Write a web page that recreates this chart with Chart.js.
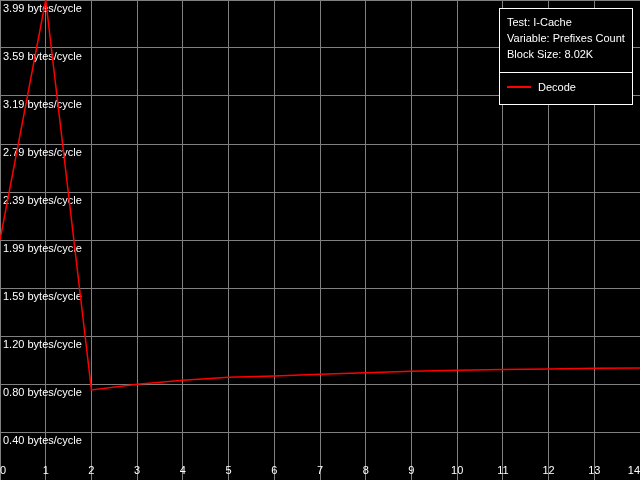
<!DOCTYPE html>
<html>
<head>
<meta charset="utf-8">
<script src="https://cdn.jsdelivr.net/npm/chart.js@4/dist/chart.umd.min.js"></script>
<style>
  html, body { margin: 0; padding: 0; background: #000; }
  #chart { display: block; }
</style>
</head>
<body>
<canvas id="chart" width="640" height="480"></canvas>
<script>
// Data
const prefixCounts = [0, 1, 2, 3, 4, 5, 6, 7, 8, 9, 10, 11, 12, 13, 14];
const decodeRate = [1.995, 3.99, 0.748, 0.796, 0.829, 0.854, 0.864, 0.879, 0.892, 0.904, 0.912, 0.918, 0.923, 0.929, 0.931];
const yTickValues = [0, 0.399, 0.798, 1.197, 1.596, 1.995, 2.394, 2.793, 3.192, 3.591, 3.99];
const yTickLabels = ["", "0.40 bytes/cycle", "0.80 bytes/cycle", "1.20 bytes/cycle", "1.59 bytes/cycle",
  "1.99 bytes/cycle", "2.39 bytes/cycle", "2.79 bytes/cycle", "3.19 bytes/cycle", "3.59 bytes/cycle", "3.99 bytes/cycle"];
const infoLines = ["Test: I-Cache", "Variable: Prefixes Count", "Block Size: 8.02K"];
const seriesName = "Decode";

const FONT = "11px 'Liberation Sans', Arial, sans-serif";

// Info + legend box in the top right corner
const infoBox = {
  id: "infoBox",
  afterDraw(chart){
    const c = chart.ctx;
    c.save();
    c.fillStyle = "#000";
    c.fillRect(499, 8, 133, 96);
    c.strokeStyle = "#fff";
    c.lineWidth = 1;
    c.strokeRect(499.5, 8.5, 133, 96);
    c.beginPath();
    c.moveTo(499, 72.5);
    c.lineTo(632, 72.5);
    c.stroke();
    c.font = FONT;
    c.fillStyle = "#fff";
    c.textBaseline = "middle";
    c.textAlign = "left";
    infoLines.forEach((t, i) => c.fillText(t, 507, 23 + i * 16));
    c.fillText(seriesName, 538, 88);
    c.fillStyle = "#ff0000";
    c.fillRect(507, 86, 24, 2);
    c.restore();
  }
};

// make the plot fill the whole canvas
const noPadX = axis => { axis.height = 0; axis.paddingLeft = 0; axis.paddingRight = 0; };
const noPadY = axis => { axis.width = 0; axis.paddingTop = 0; axis.paddingBottom = 0; };

new Chart(document.getElementById("chart").getContext("2d"), {
  type: "line",
  data: {
    datasets: [{
      label: seriesName,
      data: prefixCounts.map((x, i) => ({x: x, y: decodeRate[i]})),
      borderColor: "#ff0000",
      borderWidth: 1.5,
      pointRadius: 0,
      tension: 0,
      fill: false
    }]
  },
  options: {
    responsive: false,
    animation: false,
    devicePixelRatio: 1,
    layout: { padding: 0 },
    plugins: { legend: { display: false }, tooltip: { enabled: false } },
    scales: {
      x: {
        type: "linear",
        min: 0, max: 14,
        afterFit: noPadX,
        grid: { color: "#808080", drawTicks: false, lineWidth: 1 },
        border: { display: false },
        ticks: {
          stepSize: 1, mirror: true, align: "inner", padding: 2,
          color: "#fff", font: { family: "'Liberation Sans', Arial, sans-serif", size: 11 },
          maxRotation: 0, autoSkip: false
        }
      },
      y: {
        type: "linear",
        min: 0, max: 3.99,
        afterBuildTicks: axis => { axis.ticks = yTickValues.map(v => ({value: v})); },
        afterFit: noPadY,
        grid: { color: "#808080", drawTicks: false, lineWidth: 1 },
        border: { display: false },
        ticks: {
          mirror: true, padding: 3, labelOffset: 9,
          color: "#fff", font: { family: "'Liberation Sans', Arial, sans-serif", size: 11 },
          autoSkip: false,
          callback: (v, i) => yTickLabels[i]
        }
      }
    }
  },
  plugins: [infoBox]
});
</script>
</body>
</html>
